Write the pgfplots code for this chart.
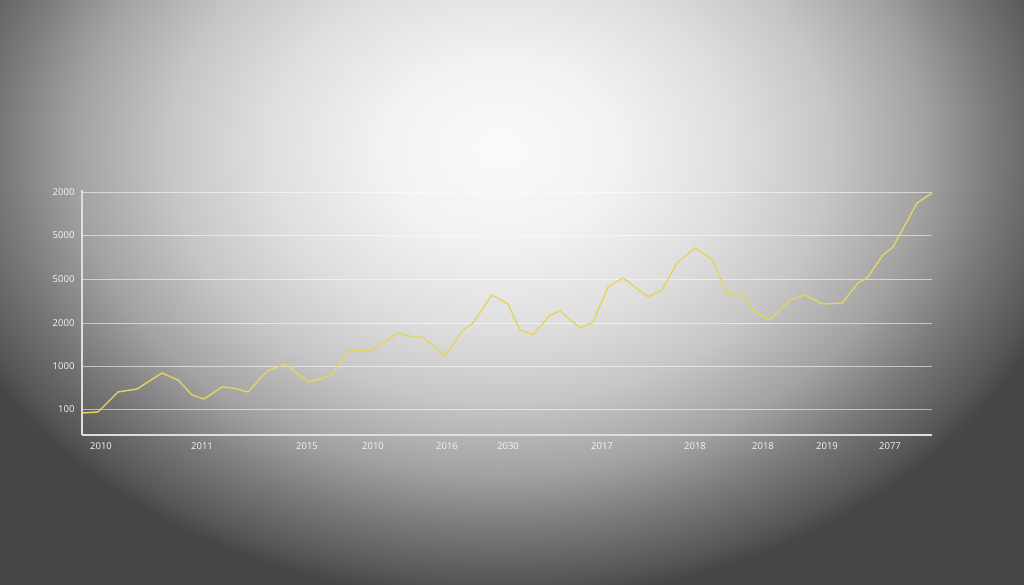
\documentclass[border=0pt]{standalone}
\usepackage{pgfplots}
\pgfplotsset{compat=1.18}
\usepackage{fontspec}
\setmainfont{Open Sans}
\definecolor{lineyel}{RGB}{228,212,96}
\definecolor{axcol}{RGB}{222,222,222}
\definecolor{lblcol}{RGB}{245,245,245}
\definecolor{bg0}{RGB}{250,250,250}
\definecolor{bg1}{RGB}{242,242,242}
\definecolor{bg2}{RGB}{222,222,222}
\definecolor{bg3}{RGB}{198,198,198}
\definecolor{bg4}{RGB}{162,162,162}
\definecolor{bg5}{RGB}{122,122,122}
\definecolor{bg6}{RGB}{86,86,86}
\definecolor{bg7}{RGB}{70,70,70}
\pgfdeclareradialshading{bgshade}{\pgfpoint{0bp}{0bp}}{%
  color(0bp)=(bg0);
  color(5bp)=(bg1);
  color(10bp)=(bg2);
  color(14bp)=(bg3);
  color(18bp)=(bg4);
  color(21bp)=(bg5);
  color(24bp)=(bg6);
  color(25bp)=(bg7);
  color(50bp)=(bg7)}
\begin{document}
\begin{tikzpicture}[x=1pt,y=1pt]
\begin{scope}
\clip (0,0) rectangle (1024,585);
\fill[bg7] (0,0) rectangle (1024,585);
\shade[shading=bgshade] (500,435) ellipse [x radius=590, y radius=450];
\end{scope}
\useasboundingbox (0,0) rectangle (1024,585);
\begin{axis}[
  at={(82pt,150pt)}, anchor=south west,
  scale only axis, width=850pt, height=245pt,
  xmin=82, xmax=932, ymin=0, ymax=245,
  axis x line=bottom, axis y line=left,
  axis line style={-, axcol, line width=1.1pt},
  major tick length=0pt,
  xtick={101,202,307,373,447,508,602,695,763,827,890},
  xticklabels={2010,2011,2015,2010,2016,2030,2017,2018,2018,2019,2077},
  ytick={26,69,112,156,200,243},
  yticklabels={100,1000,2000,5000,5000,2000},
  ymajorgrids,
  grid style={white, opacity=0.55, line width=0.8pt},
  tick label style={font=\fontsize{9.5}{11}\selectfont, text=lblcol},
  xticklabel style={yshift=-4pt},
  yticklabel style={xshift=-4pt},
  clip=false,
]
\addplot[lineyel, line width=1.4pt, line join=round] coordinates {
(82,22) (98,23) (118,43) (137,46) (162,62) (178,55) (192,40) (204,36)
(222,48) (233,47) (248,43) (267,64) (285,71) (308,53) (330,59) (350,85)
(370,84) (398,102) (413,98) (423,98) (445,79) (463,105) (473,112) (492,140)
(508,131) (520,105) (533,100) (550,120) (560,124) (580,107) (593,113) (608,148)
(623,157) (648,138) (662,145) (677,172) (695,187) (713,175) (727,140) (742,142)
(755,123) (770,115) (790,135) (805,140) (823,131) (842,132) (858,152) (867,157)
(883,180) (893,188) (917,232) (932,242)
};
\end{axis}
\end{tikzpicture}
\end{document}
